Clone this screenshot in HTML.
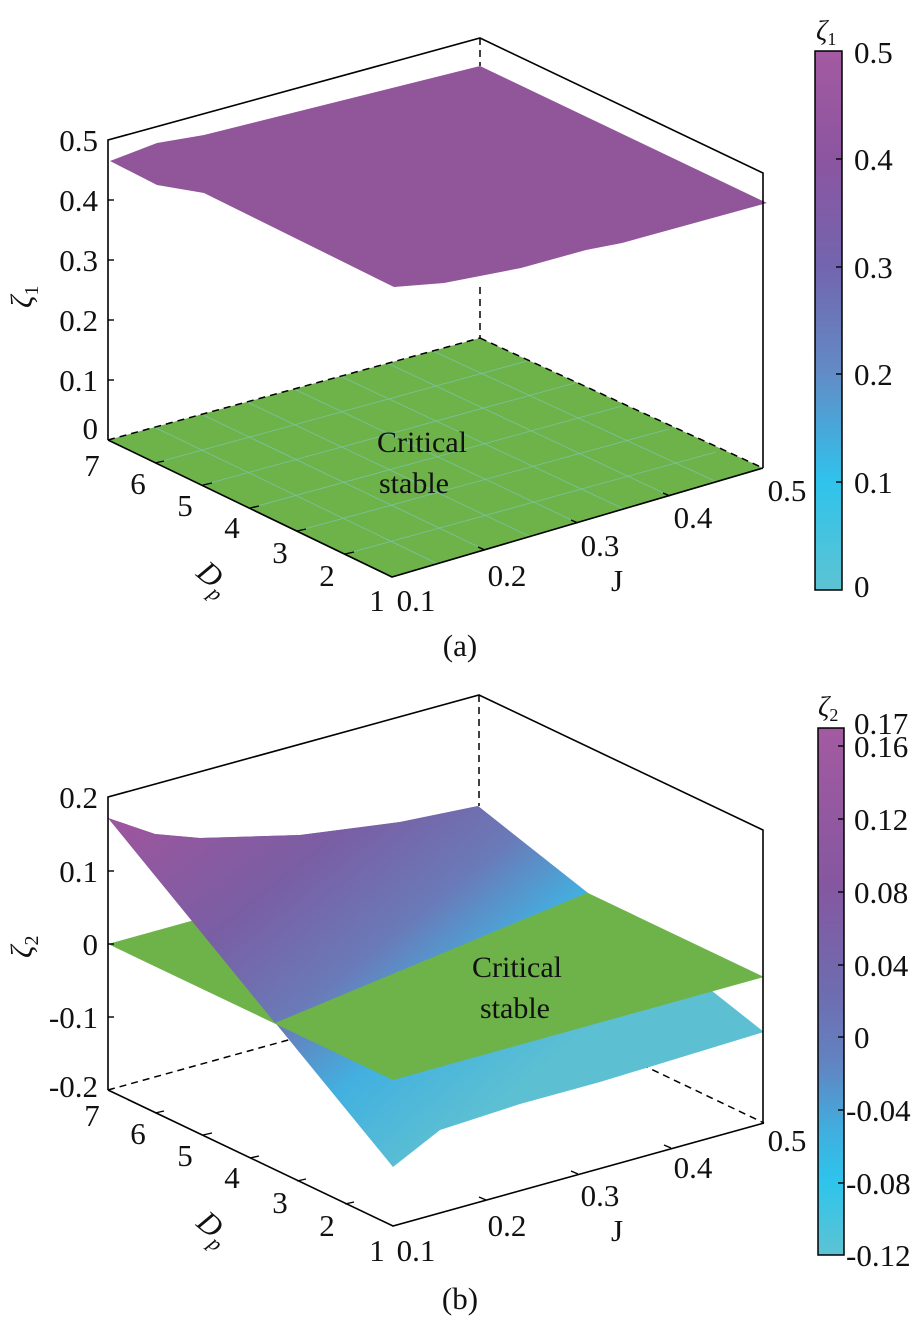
<!DOCTYPE html>
<html><head><meta charset="utf-8"><style>
html,body{margin:0;padding:0;background:#fff}
svg{display:block}
svg text{font-family:"Liberation Serif","DejaVu Serif",serif;fill:#111}
</style></head><body>
<svg width="924" height="1322" viewBox="0 0 924 1322" xmlns="http://www.w3.org/2000/svg" font-family="Liberation Serif, serif">
<defs>
<linearGradient id="cb1" x1="0" y1="0" x2="0" y2="1">
<stop offset="0" stop-color="#a35aa1"/><stop offset="0.2" stop-color="#8c55a0"/>
<stop offset="0.4" stop-color="#7265ae"/><stop offset="0.6" stop-color="#628cc6"/>
<stop offset="0.8" stop-color="#2fc3ec"/><stop offset="1" stop-color="#5dc3d3"/>
</linearGradient>
<linearGradient id="cb2" x1="0" y1="0" x2="0" y2="1">
<stop offset="0" stop-color="#a35aa1"/><stop offset="0.3" stop-color="#8557a0"/>
<stop offset="0.5" stop-color="#6e6cb0"/><stop offset="0.63" stop-color="#6382c0"/>
<stop offset="0.77" stop-color="#3fb0e0"/><stop offset="0.86" stop-color="#2ec4ec"/>
<stop offset="1" stop-color="#5dc3d3"/>
</linearGradient>
<linearGradient id="s2" gradientUnits="userSpaceOnUse" x1="140" y1="820" x2="420" y2="1170">
<stop offset="0" stop-color="#9a569e"/><stop offset="0.3" stop-color="#7a5ea4"/>
<stop offset="0.55" stop-color="#6a7ab8"/><stop offset="0.75" stop-color="#42b0e0"/>
<stop offset="1" stop-color="#5dc0d2"/>
</linearGradient>
</defs>

<!-- ===== Panel (a) ===== -->
<g stroke="#000" stroke-width="1.5" fill="none" stroke-dasharray="7,5">
<line x1="480" y1="38" x2="480" y2="66"/>
<line x1="480" y1="287" x2="480" y2="338"/>
</g>
<polygon points="108,440 480,338 763,468 392,577" fill="#6db34a"/>
<g stroke="#7fc8c8" stroke-width="0.8" opacity="0.7">
<line x1="155" y1="463" x2="527" y2="361"/><line x1="203" y1="485" x2="575" y2="383"/>
<line x1="250" y1="508" x2="622" y2="406"/><line x1="297" y1="531" x2="669" y2="429"/>
<line x1="345" y1="554" x2="716" y2="452"/>
<line x1="154" y1="427" x2="438" y2="564"/><line x1="201" y1="414" x2="485" y2="550"/>
<line x1="247" y1="402" x2="531" y2="537"/><line x1="294" y1="389" x2="578" y2="523"/>
<line x1="340" y1="376" x2="624" y2="509"/><line x1="387" y1="363" x2="670" y2="496"/>
<line x1="433" y1="351" x2="717" y2="482"/>
</g>
<g stroke="#000" stroke-width="1.5" fill="none" stroke-dasharray="7,5">
<line x1="108" y1="440" x2="480" y2="338"/><line x1="480" y1="338" x2="763" y2="468"/>
</g>
<path d="M110,161 L157,143 L204,135 L480,66 L767,203 L622,243 L586,250 L521,268 L444,283 L394,287 L204,193 L157,185 Z" fill="#91559a"/>
<g stroke="#000" stroke-width="1.6" fill="none">
<polyline points="108,440 108,140 480,38 763,173 763,468"/>
<polyline points="108,440 392,577 763,468"/>
</g>
<g stroke="#000" stroke-width="1.4">
<line x1="108" y1="200" x2="114" y2="200"/><line x1="108" y1="260" x2="114" y2="260"/>
<line x1="108" y1="320" x2="114" y2="320"/><line x1="108" y1="380" x2="114" y2="380"/>
<line x1="155" y1="463" x2="164" y2="461"/><line x1="203" y1="485" x2="212" y2="483"/>
<line x1="250" y1="508" x2="259" y2="506"/><line x1="297" y1="531" x2="306" y2="529"/>
<line x1="345" y1="554" x2="354" y2="552"/>
<line x1="485" y1="550" x2="478" y2="547"/><line x1="578" y1="523" x2="571" y2="520"/>
<line x1="670" y1="496" x2="663" y2="493"/>
</g>
<g font-size="31" text-anchor="end">
<text x="98" y="151">0.5</text><text x="98" y="211">0.4</text><text x="98" y="271">0.3</text>
<text x="98" y="331">0.2</text><text x="98" y="391">0.1</text><text x="98" y="439">0</text>
</g>
<g font-size="31" text-anchor="middle">
<text x="92" y="476">7</text><text x="138" y="494">6</text><text x="185" y="516">5</text>
<text x="232" y="538">4</text><text x="280" y="563">3</text><text x="327" y="586">2</text>
<text x="377" y="611">1</text>
<text x="416" y="611">0.1</text><text x="507" y="586">0.2</text><text x="600" y="556">0.3</text>
<text x="693" y="528">0.4</text><text x="787" y="501">0.5</text>
<text x="617" y="591">J</text>
<text x="460" y="656">(a)</text>
</g>
<text x="0" y="0" font-size="31" font-style="italic" transform="translate(195,575) rotate(40)">D<tspan font-size="21" dy="8">p</tspan></text>
<text x="0" y="0" font-size="31" font-style="italic" transform="translate(32,308) rotate(-90)">ζ<tspan font-size="20" dy="6" font-style="normal">1</tspan></text>
<g font-size="30" text-anchor="middle" fill="#222">
<text x="422" y="452">Critical</text><text x="414" y="493">stable</text>
</g>
<rect x="815" y="51" width="27" height="539" fill="url(#cb1)" stroke="#000" stroke-width="1.5"/>
<g stroke="#000" stroke-width="1.4">
<line x1="836" y1="159" x2="842" y2="159"/><line x1="836" y1="267" x2="842" y2="267"/>
<line x1="836" y1="374" x2="842" y2="374"/><line x1="836" y1="482" x2="842" y2="482"/>
</g>
<g font-size="31">
<text x="854" y="63">0.5</text><text x="854" y="170">0.4</text><text x="854" y="278">0.3</text>
<text x="854" y="385">0.2</text><text x="854" y="493">0.1</text><text x="854" y="597">0</text>
</g>
<text x="816" y="40" font-size="28" font-style="italic">ζ<tspan font-size="18" dy="5" font-style="normal">1</tspan></text>

<!-- ===== Panel (b) ===== -->
<g stroke="#000" stroke-width="1.5" fill="none" stroke-dasharray="7,5">
<line x1="479" y1="695" x2="479" y2="806"/>
<line x1="108" y1="1090" x2="479" y2="987"/><line x1="479" y1="987" x2="764" y2="1123"/>
</g>
<path d="M108,818 L155,834 L200,838 L300,835 L400,822 L478,806 L764,1032 L600,1082 L520,1104 L440,1130 L393,1167 Z" fill="url(#s2)"/>
<polygon points="108,944 479,841 764,977 393,1080" fill="#6db34a"/>
<path d="M108,818 L155,834 L200,838 L300,835 L400,822 L478,806 L587,893 L275,1023 Z" fill="url(#s2)"/>
<g stroke="#000" stroke-width="1.6" fill="none">
<polyline points="108,1090 108,797 479,695 763,830 763,1123"/>
<polyline points="108,1090 393,1226 764,1123"/>
</g>
<g stroke="#000" stroke-width="1.4">
<line x1="108" y1="871" x2="114" y2="871"/><line x1="108" y1="944" x2="114" y2="944"/>
<line x1="108" y1="1017" x2="114" y2="1017"/>
<line x1="155" y1="1113" x2="164" y2="1111"/><line x1="203" y1="1135" x2="212" y2="1133"/>
<line x1="250" y1="1158" x2="259" y2="1156"/><line x1="297" y1="1181" x2="306" y2="1179"/>
<line x1="345" y1="1204" x2="354" y2="1202"/>
<line x1="486" y1="1200" x2="479" y2="1197"/><line x1="578" y1="1174" x2="571" y2="1171"/>
<line x1="671" y1="1148" x2="664" y2="1145"/>
</g>
<g font-size="31" text-anchor="end">
<text x="98" y="808">0.2</text><text x="98" y="882">0.1</text><text x="98" y="955">0</text>
<text x="98" y="1028">-0.1</text><text x="98" y="1097">-0.2</text>
</g>
<g font-size="31" text-anchor="middle">
<text x="92" y="1126">7</text><text x="138" y="1144">6</text><text x="185" y="1166">5</text>
<text x="232" y="1188">4</text><text x="280" y="1213">3</text><text x="327" y="1236">2</text>
<text x="377" y="1261">1</text>
<text x="416" y="1261">0.1</text><text x="507" y="1236">0.2</text><text x="600" y="1206">0.3</text>
<text x="693" y="1178">0.4</text><text x="787" y="1151">0.5</text>
<text x="617" y="1241">J</text>
<text x="460" y="1309">(b)</text>
</g>
<text x="0" y="0" font-size="31" font-style="italic" transform="translate(195,1225) rotate(40)">D<tspan font-size="21" dy="8">p</tspan></text>
<text x="0" y="0" font-size="31" font-style="italic" transform="translate(32,958) rotate(-90)">ζ<tspan font-size="20" dy="6" font-style="normal">2</tspan></text>
<g font-size="30" text-anchor="middle" fill="#222">
<text x="517" y="977">Critical</text><text x="515" y="1018">stable</text>
</g>
<rect x="818" y="728" width="26" height="527" fill="url(#cb2)" stroke="#000" stroke-width="1.5"/>
<g stroke="#000" stroke-width="1.4">
<line x1="838" y1="746" x2="844" y2="746"/><line x1="838" y1="819" x2="844" y2="819"/>
<line x1="838" y1="892" x2="844" y2="892"/><line x1="838" y1="965" x2="844" y2="965"/>
<line x1="838" y1="1037" x2="844" y2="1037"/><line x1="838" y1="1110" x2="844" y2="1110"/>
<line x1="838" y1="1183" x2="844" y2="1183"/>
</g>
<g font-size="31">
<text x="854" y="734">0.17</text><text x="854" y="757">0.16</text><text x="854" y="830">0.12</text>
<text x="854" y="903">0.08</text><text x="854" y="976">0.04</text><text x="854" y="1048">0</text>
<text x="846" y="1121">-0.04</text><text x="846" y="1194">-0.08</text><text x="846" y="1266">-0.12</text>
</g>
<text x="818" y="716" font-size="28" font-style="italic">ζ<tspan font-size="18" dy="5" font-style="normal">2</tspan></text>
</svg>
</body></html>
